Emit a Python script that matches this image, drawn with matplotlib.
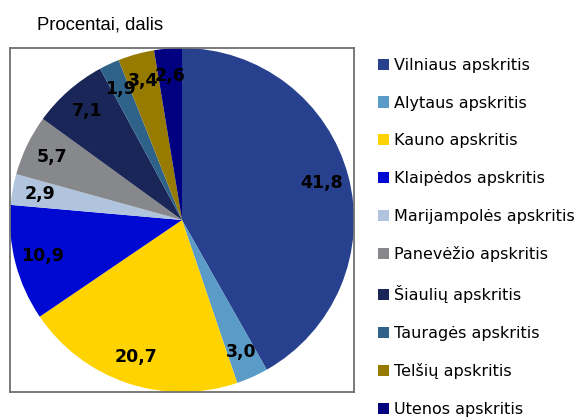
import matplotlib.pyplot as plt
import numpy as np

# Data
regions = ["Vilniaus apskritis", "Alytaus apskritis", "Kauno apskritis",
           "Klaipėdos apskritis", "Marijampolės apskritis", "Panevėžio apskritis",
           "Šiaulių apskritis", "Tauragės apskritis", "Telšių apskritis",
           "Utenos apskritis"]
shares = [41.8, 3.0, 20.7, 10.9, 2.9, 5.7, 7.1, 1.9, 3.4, 2.6]
colors = ["#27418E", "#5B9BC8", "#FFD300", "#0009D2", "#B0C4DE",
          "#87888B", "#1A2657", "#2E6289", "#977B00", "#000080"]

fig = plt.figure(figsize=(5.77, 4.2), dpi=100)
ax = fig.add_axes([10 / 577, 1 - 392 / 420, 344 / 577, 344 / 420])

wedges, texts = ax.pie(shares, colors=colors, startangle=90, counterclock=False,
                       labels=[f"{v:.1f}".replace(".", ",") for v in shares],
                       labeldistance=0.84, radius=1.0, frame=True,
                       wedgeprops=dict(linewidth=0),
                       textprops=dict(fontsize=12.5, fontweight="bold",
                                      color="black", family="DejaVu Sans"))
for t in texts:
    t.set_horizontalalignment("center")
    t.set_verticalalignment("center")

ax.set_xlim(-1.0, 1.0)
ax.set_ylim(-1.0, 1.0)
ax.set_aspect("auto")
ax.set_xticks([])
ax.set_yticks([])
for s in ax.spines.values():
    s.set_color("#707070")
    s.set_linewidth(1.3)

fig.text(37 / 577, 1 - 25 / 420, "Procentai, dalis", fontsize=13.3,
         family="Liberation Sans", ha="left", va="center")

leg = fig.legend(wedges, regions, loc="upper left",
                 bbox_to_anchor=(378 / 577, 1 - 58 / 420),
                 frameon=False, fontsize=11.5, handlelength=0.7,
                 handleheight=0.7, handletextpad=0.3, labelspacing=1.42,
                 borderaxespad=0, borderpad=0)
for t in leg.get_texts():
    t.set_family("DejaVu Sans")

fig.savefig("out.png", dpi=100)
